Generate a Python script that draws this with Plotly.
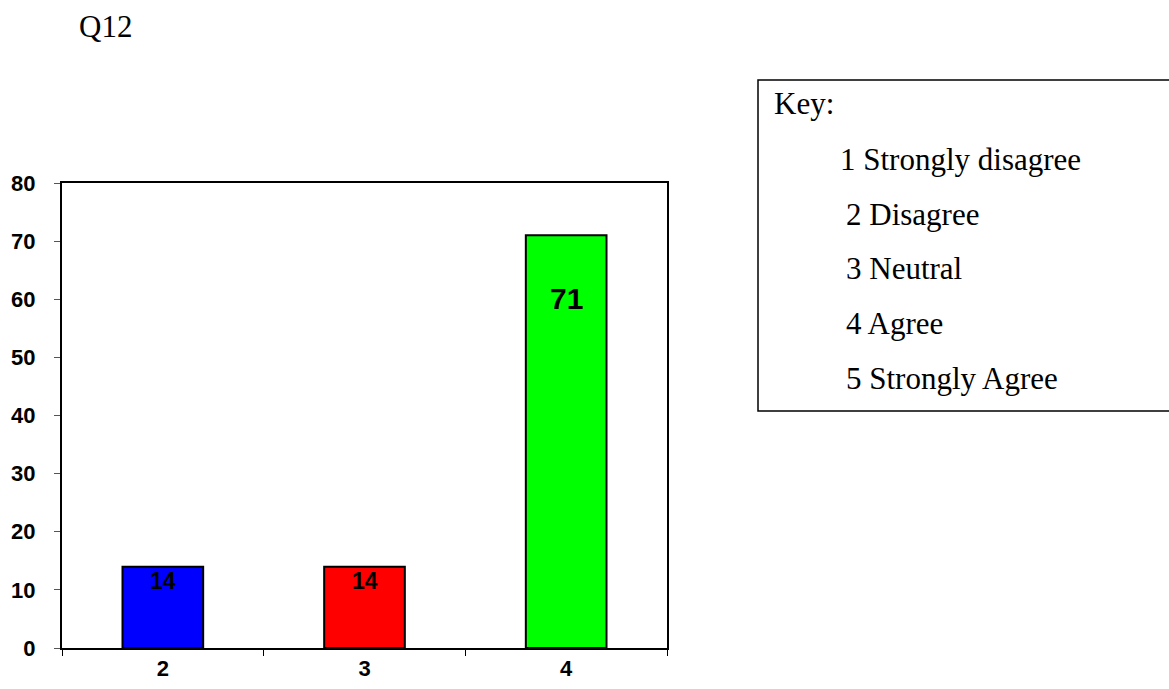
import plotly.graph_objects as go

# Survey responses for Q12 (percent of respondents per answer code)
categories = ["2", "3", "4"]
values = [14, 14, 71]
bar_colors = ["#0000FF", "#FF0000", "#00FF00"]
y_ticks = [0, 10, 20, 30, 40, 50, 60, 70, 80]

key_title = "Key:"
key_items = ["1 Strongly disagree", "2 Disagree", "3 Neutral", "4 Agree", "5 Strongly Agree"]

W, H = 1169, 689
L, R, T, B = 62, 502, 183, 41
PW, PH = W - L - R, H - T - B

SERIF = "Liberation Serif"
SANS = "Liberation Sans"


def px(x):
    return (x - L) / PW


def py(y):
    return (H - B - y) / PH


fig = go.Figure()
fig.add_trace(go.Bar(
    x=categories, y=values, width=0.4,
    marker=dict(color=bar_colors, line=dict(color="black", width=2)),
    showlegend=False, hoverinfo="x+y",
))

# Value labels inside the top of each bar (placed by category index)
label_sizes = [23, 23, 30]
label_shift = [-14, -14, -63]
for i, (v, s, sh) in enumerate(zip(values, label_sizes, label_shift)):
    fig.add_annotation(x=i, y=v, xref="x", yref="y", text=str(v), showarrow=False,
                       yanchor="middle", yshift=sh,
                       font=dict(family=SANS, size=s, color="black", weight="bold"))

# Title text
fig.add_annotation(x=px(77), y=py(26), xref="paper", yref="paper", text="Q12",
                   showarrow=False, xanchor="left", yanchor="middle",
                   font=dict(family=SERIF, size=31, color="black"))

# Key box
fig.add_shape(type="rect", xref="paper", yref="paper",
              x0=px(758), x1=px(1180), y0=py(411), y1=py(80),
              line=dict(color="black", width=1.5), fillcolor="white")
fig.add_annotation(x=px(772), y=py(104), xref="paper", yref="paper", text=key_title,
                   showarrow=False, xanchor="left", yanchor="middle",
                   font=dict(family=SERIF, size=31, color="black"))
item_x = [838, 844, 844, 844, 844]
item_y = [160, 214, 268, 323, 378]
for t, ix, iy in zip(key_items, item_x, item_y):
    fig.add_annotation(x=px(ix), y=py(iy), xref="paper", yref="paper", text=t,
                       showarrow=False, xanchor="left", yanchor="middle",
                       font=dict(family=SERIF, size=31, color="black"))

fig.update_layout(
    width=W, height=H,
    margin=dict(l=L, r=R, t=T, b=B, pad=0),
    paper_bgcolor="white", plot_bgcolor="white",
    bargap=0.6,
)
fig.update_xaxes(
    type="category", range=[-0.5, 2.5], autorange=False, automargin=False,
    showline=True, linecolor="black", linewidth=2, mirror=True,
    ticks="outside", tickson="boundaries", ticklen=6, tickcolor="black", tickwidth=1,
    showgrid=False, zeroline=False, ticklabelstandoff=0,
    tickfont=dict(family=SANS, size=22, color="black", weight="bold"),
)
fig.update_yaxes(
    range=[0, 80], autorange=False, automargin=False, tickvals=y_ticks, showline=True,
    linecolor="black", linewidth=2, mirror=True, ticks="outside", ticklen=6,
    tickcolor="#555555", tickwidth=1,
    showgrid=False, zeroline=False, ticklabelstandoff=14,
    tickfont=dict(family=SANS, size=22, color="black", weight="bold"),
)

fig.write_html("out.html")
